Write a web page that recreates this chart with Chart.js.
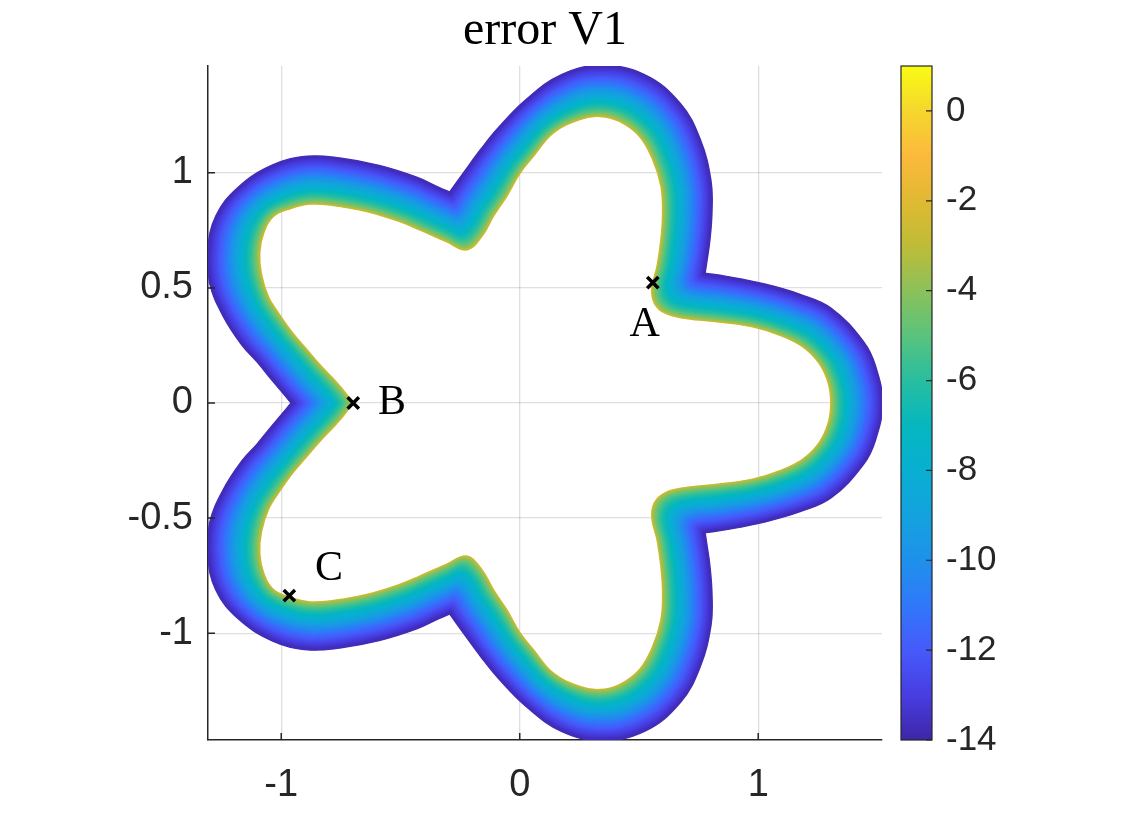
<!DOCTYPE html>
<html>
<head>
<meta charset="utf-8">
<script src="https://cdn.jsdelivr.net/npm/chart.js@4.4.1/dist/chart.umd.min.js"></script>
<style>
html,body{margin:0;padding:0;background:#ffffff;}
#wrap{width:1146px;height:833px;}
</style>
</head>
<body>
<div id="wrap"><canvas id="c" width="1146" height="833"></canvas></div>
<script>
// ---------------- data ----------------
const titleText = 'error V1';
const xTicks = [-1, 0, 1];
const xTickLabels = ['-1', '0', '1'];
const yTicks = [-1, -0.5, 0, 0.5, 1];
const yTickLabels = ['-1', '-0.5', '0', '0.5', '1'];
const cbTicks = [-14, -12, -10, -8, -6, -4, -2, 0];
const cbTickLabels = ['-14', '-12', '-10', '-8', '-6', '-4', '-2', '0'];
const xRange = [-1.307, 1.519];
const yRange = [-1.464, 1.464];
const cbRange = [-14, 1];

// inner boundary of the band (closed loop, starts and ends at B)
const innerX = [
 -0.705,-0.730,-0.775,-0.835,-0.895,-0.955,-1.010,-1.055,-1.085,-1.092,-1.075,-1.034,-0.966,-0.880,-0.782,-0.642,-0.503,-0.419,-0.307,-0.223,-0.160,-0.112,-0.056,0.000,0.056,0.140,0.251,0.335,0.419,0.503,0.559,0.594,0.601,0.594,0.578,0.556,0.566,0.610,0.698,0.838,0.977,1.089,1.187,1.257,1.296,1.306,
 1.296,1.257,1.187,1.089,0.977,0.838,0.698,0.610,0.566,0.556,0.578,0.594,0.601,0.594,0.559,0.503,0.419,0.335,0.251,0.140,0.056,0.000,-0.056,-0.112,-0.160,-0.223,-0.307,-0.419,-0.503,-0.642,-0.782,-0.880,-0.966,-1.034,-1.075,-1.092,-1.085,-1.055,-1.010,-0.955,-0.895,-0.835,-0.775,-0.730,-0.705];
const innerY = [
 0.000,0.040,0.095,0.160,0.232,0.305,0.385,0.460,0.560,0.653,0.740,0.812,0.845,0.866,0.860,0.834,0.790,0.754,0.703,0.667,0.725,0.812,0.899,1.000,1.073,1.175,1.233,1.247,1.225,1.160,1.059,0.943,0.827,0.711,0.595,0.500,0.435,0.392,0.369,0.354,0.333,0.297,0.246,0.173,0.085,0.000,
 -0.085,-0.173,-0.246,-0.297,-0.333,-0.354,-0.369,-0.392,-0.435,-0.500,-0.595,-0.711,-0.827,-0.943,-1.059,-1.160,-1.225,-1.247,-1.233,-1.175,-1.073,-1.000,-0.899,-0.812,-0.725,-0.667,-0.703,-0.754,-0.790,-0.834,-0.860,-0.866,-0.845,-0.812,-0.740,-0.653,-0.560,-0.460,-0.385,-0.305,-0.232,-0.160,-0.095,-0.040,0.000];
// outer boundary of the band, point-by-point partner of the inner boundary
const outerX = [
 -0.956,-0.956,-0.956,-0.980,-1.035,-1.100,-1.165,-1.240,-1.298,-1.306,-1.272,-1.180,-1.035,-0.890,-0.755,-0.590,-0.430,-0.340,-0.293,-0.293,-0.293,-0.293,-0.232,-0.160,-0.092,0.027,0.176,0.338,0.522,0.672,0.755,0.800,0.804,0.795,0.782,0.775,0.775,0.775,0.775,0.866,1.025,1.175,1.305,1.440,1.490,1.519,
 1.490,1.440,1.305,1.175,1.025,0.866,0.775,0.775,0.775,0.775,0.782,0.795,0.804,0.800,0.755,0.672,0.522,0.338,0.176,0.027,-0.092,-0.160,-0.232,-0.293,-0.293,-0.293,-0.293,-0.340,-0.430,-0.590,-0.755,-0.890,-1.035,-1.180,-1.272,-1.306,-1.298,-1.240,-1.165,-1.100,-1.035,-0.980,-0.956,-0.956,-0.956];
const outerY = [
 0.000,0.000,0.000,0.030,0.098,0.180,0.255,0.375,0.520,0.665,0.812,0.935,1.032,1.070,1.062,1.030,0.978,0.935,0.914,0.914,0.914,0.914,1.002,1.103,1.190,1.316,1.425,1.464,1.425,1.300,1.145,0.965,0.830,0.705,0.610,0.562,0.562,0.562,0.562,0.548,0.515,0.470,0.410,0.265,0.160,0.000,
 -0.160,-0.265,-0.410,-0.470,-0.515,-0.548,-0.562,-0.562,-0.562,-0.562,-0.610,-0.705,-0.830,-0.965,-1.145,-1.300,-1.425,-1.464,-1.425,-1.316,-1.190,-1.103,-1.002,-0.914,-0.914,-0.914,-0.914,-0.935,-0.978,-1.030,-1.062,-1.070,-1.032,-0.935,-0.812,-0.665,-0.520,-0.375,-0.255,-0.180,-0.098,-0.030,0.000,0.000,0.000];

// error value across the band (0 = inner edge, 1 = outer edge)
const bandT = [0, 0.03, 0.08, 0.18, 0.32, 0.48, 0.65, 0.82, 1];
const bandV = [-2.4, -3.4, -4.5, -5.9, -7.4, -9.1, -10.9, -12.3, -13.7];

// marked points and their labels
const markerNames = ['A', 'B', 'C'];
const markerX = [0.558, -0.698, -0.966];
const markerY = [0.523, 0.000, -0.837];
const labelX = [0.524, -0.535, -0.800];
const labelY = [0.339, 0.000, -0.721];

// colormap (parula-like)
const cmapV = [-14,-13,-12,-11,-10,-9,-8,-7,-6,-5,-4,-3,-2,-1,0,1];
const cmapRGB = [
 [62,38,168],[71,61,225],[70,90,250],[48,120,250],[30,145,235],[20,162,222],[8,175,210],[5,183,190],
 [40,190,160],[90,195,125],[140,193,90],[190,188,55],[225,185,50],[252,185,60],[245,215,45],[249,251,20]];

// ---------------- helpers ----------------
function interp(xs, ys, v) {
  if (v <= xs[0]) return ys[0];
  for (let i = 1; i < xs.length; i++) {
    if (v <= xs[i]) { const f = (v - xs[i-1]) / (xs[i] - xs[i-1]); return ys[i-1] + f * (ys[i] - ys[i-1]); }
  }
  return ys[ys.length - 1];
}
function cmap(v) {
  const c = [0,1,2].map(k => Math.round(interp(cmapV, cmapRGB.map(r => r[k]), v)));
  return 'rgb(' + c.join(',') + ')';
}

// ---------------- datasets ----------------
const N = 80;
const datasets = [];
for (let k = 0; k < N; k++) {
  const t = 1 - k / (N - 1);   // index 0 = outer edge (drawn on top)
  const pts = innerX.map((ix, i) => ({
    x: ix + (outerX[i] - ix) * t,
    y: innerY[i] + (outerY[i] - innerY[i]) * t
  }));
  datasets.push({
    data: pts,
    showLine: true,
    borderColor: cmap(interp(bandT, bandV, t)),
    borderWidth: 2.4,
    pointRadius: 0,
    tension: 0.4,
    borderJoinStyle: 'round',
    borderCapStyle: 'round',
    fill: false,
    order: 0
  });
}
datasets.push({
  data: markerX.map((x, i) => ({x: x, y: markerY[i]})),
  showLine: false,
  pointStyle: 'crossRot',
  pointRadius: 8,
  borderWidth: 3.5,
  borderColor: '#000000',
  backgroundColor: '#000000',
  order: -1
});

// ---------------- plugins ----------------
const axisTicks = {
  id: 'axisTicks',
  afterDraw(chart) {
    const {ctx, chartArea: a, scales: {x, y}} = chart;
    ctx.save();
    ctx.strokeStyle = '#262626';
    ctx.lineWidth = 1.5;
    ctx.beginPath();
    xTicks.forEach(v => { const p = x.getPixelForValue(v); ctx.moveTo(p, a.bottom); ctx.lineTo(p, a.bottom - 7); });
    yTicks.forEach(v => { const p = y.getPixelForValue(v); ctx.moveTo(a.left, p); ctx.lineTo(a.left + 7, p); });
    ctx.stroke();
    ctx.restore();
  }
};
const colorbar = {
  id: 'colorbar',
  afterDraw(chart) {
    const {ctx, chartArea: a} = chart;
    const s = chart.scales.cb;
    const x0 = a.right + 19, w = 31;
    const top = s.getPixelForValue(cbRange[1]);
    const bot = s.getPixelForValue(cbRange[0]);
    const g = ctx.createLinearGradient(0, bot, 0, top);
    cmapV.forEach((v, i) => g.addColorStop((v - cbRange[0]) / (cbRange[1] - cbRange[0]), 'rgb(' + cmapRGB[i].join(',') + ')'));
    ctx.save();
    ctx.fillStyle = g;
    ctx.fillRect(x0, top, w, bot - top);
    ctx.strokeStyle = '#262626';
    ctx.lineWidth = 1.2;
    ctx.strokeRect(x0, top, w, bot - top);
    ctx.beginPath();
    cbTicks.forEach(v => { const p = s.getPixelForValue(v); ctx.moveTo(x0 + w - 6, p); ctx.lineTo(x0 + w, p); });
    ctx.stroke();
    ctx.restore();
  }
};
const pointLabels = {
  id: 'pointLabels',
  afterDatasetsDraw(chart) {
    const {ctx, scales: {x, y}} = chart;
    ctx.save();
    ctx.font = '42px "Liberation Serif", "DejaVu Serif", serif';
    ctx.fillStyle = '#000000';
    ctx.textAlign = 'center';
    ctx.textBaseline = 'middle';
    markerNames.forEach((n, i) => ctx.fillText(n, x.getPixelForValue(labelX[i]), y.getPixelForValue(labelY[i])));
    ctx.restore();
  }
};

const tickFont = {family: '"Liberation Sans", Arial, Helvetica, sans-serif', size: 38};
const gridOpts = {color: 'rgba(38,38,38,0.15)', lineWidth: 1.3, drawTicks: false};
function noPad(s) { s.paddingTop = 0; s.paddingBottom = 0; s.paddingLeft = 0; s.paddingRight = 0; }

new Chart(document.getElementById('c'), {
  type: 'scatter',
  data: {datasets: datasets},
  options: {
    responsive: false,
    devicePixelRatio: 1,
    animation: false,
    events: [],
    layout: {padding: 0},
    plugins: {
      legend: {display: false},
      tooltip: {enabled: false},
      title: {
        display: true,
        text: titleText,
        fullSize: false,
        color: '#000000',
        font: {family: '"Liberation Serif", "DejaVu Serif", serif', size: 48, weight: 'normal'},
        padding: {top: 3, bottom: 5.4}
      }
    },
    scales: {
      x: {
        type: 'linear', position: 'bottom',
        min: xRange[0], max: xRange[1],
        afterBuildTicks: s => { s.ticks = xTicks.map(v => ({value: v})); },
        afterFit: s => { s.height = 93; noPad(s); },
        ticks: {callback: (v, i) => xTickLabels[i], font: tickFont, color: '#262626', padding: 23, maxRotation: 0, autoSkip: false},
        grid: gridOpts,
        border: {display: true, color: '#262626', width: 1.5}
      },
      y: {
        type: 'linear', position: 'left',
        min: yRange[0], max: yRange[1],
        afterBuildTicks: s => { s.ticks = yTicks.map(v => ({value: v})); },
        afterFit: s => { s.width = 208; noPad(s); },
        ticks: {callback: (v, i) => yTickLabels[i], font: tickFont, color: '#262626', padding: 15, autoSkip: false},
        grid: gridOpts,
        border: {display: true, color: '#262626', width: 1.5}
      },
      cb: {
        type: 'linear', position: 'right',
        min: cbRange[0], max: cbRange[1],
        afterBuildTicks: s => { s.ticks = cbTicks.map(v => ({value: v})); },
        afterFit: s => { s.width = 264; noPad(s); },
        ticks: {callback: (v, i) => cbTickLabels[i], font: {family: tickFont.family, size: 35}, color: '#262626', padding: 64, autoSkip: false},
        grid: {display: false, drawTicks: false},
        border: {display: false}
      }
    }
  },
  plugins: [axisTicks, colorbar, pointLabels]
});
</script>
</body>
</html>
